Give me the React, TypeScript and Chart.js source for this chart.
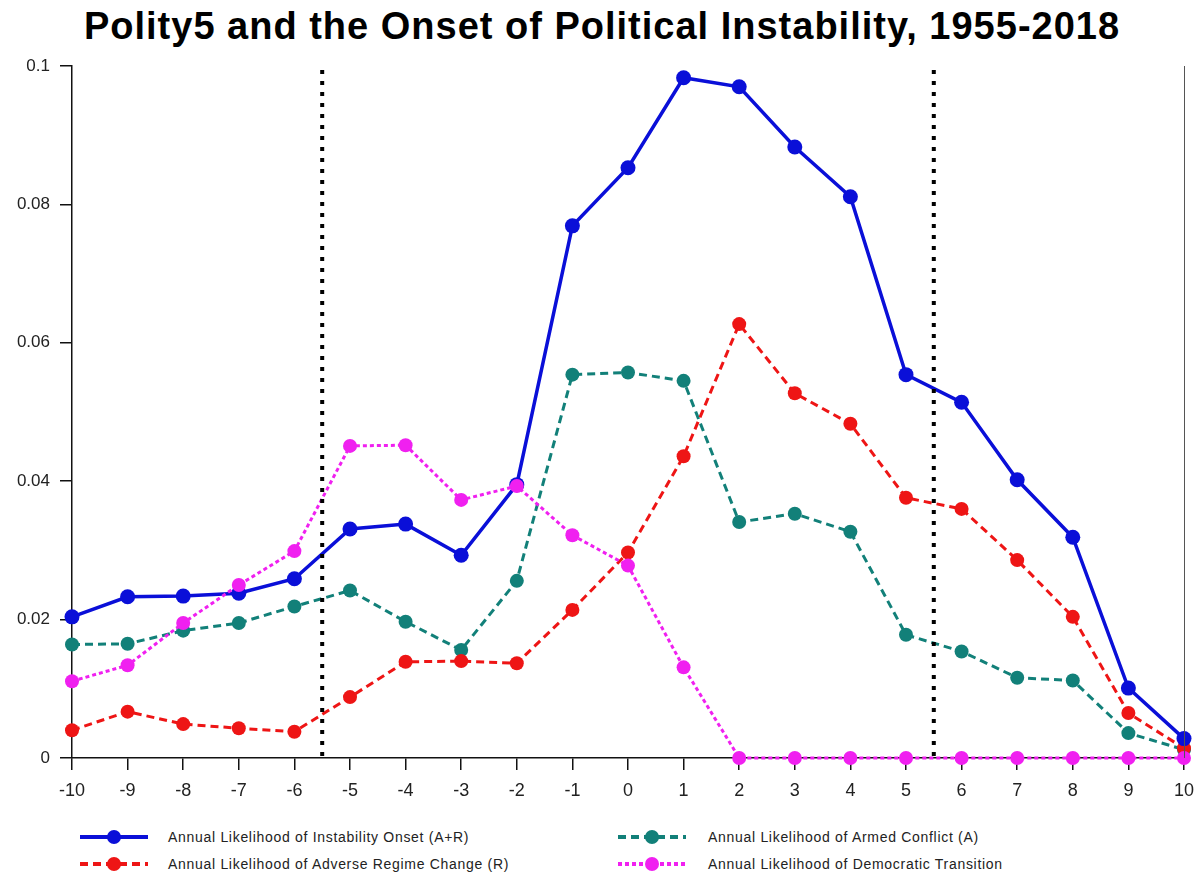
import React, { useEffect, useRef } from 'react';
import { Chart, registerables } from 'chart.js';

Chart.register(...registerables);

// Polity5 score (x axis)
const polityScores = [-10, -9, -8, -7, -6, -5, -4, -3, -2, -1, 0, 1, 2, 3, 4, 5, 6, 7, 8, 9, 10];

// Annual likelihoods
const instabilityOnset = [
  0.0204, 0.0233, 0.0234, 0.0238, 0.0259, 0.0331, 0.0338, 0.0293, 0.0395, 0.0769, 0.0853,
  0.0983, 0.097, 0.0883, 0.0811, 0.0554, 0.0514, 0.0402, 0.0319, 0.0101, 0.0028,
];
const adverseRegimeChange = [
  0.004, 0.0067, 0.0049, 0.0043, 0.0038, 0.0088, 0.0139, 0.014, 0.0137, 0.0214, 0.0297,
  0.0436, 0.0627, 0.0527, 0.0483, 0.0376, 0.036, 0.0286, 0.0204, 0.0065, 0.0014,
];
const armedConflict = [
  0.0164, 0.0165, 0.0184, 0.0195, 0.0219, 0.0242, 0.0197, 0.0156, 0.0256, 0.0554, 0.0557,
  0.0545, 0.0341, 0.0353, 0.0327, 0.0178, 0.0154, 0.0116, 0.0112, 0.0036, 0.0012,
];
const democraticTransition = [
  0.0111, 0.0134, 0.0195, 0.025, 0.0299, 0.0451, 0.0452, 0.0373, 0.0393, 0.0322, 0.0278,
  0.0131, 0, 0, 0, 0, 0, 0, 0, 0, 0,
];

// dotted reference lines between the regime bands
const bandEdges = [-5.5, 5.5];

const BLUE = '#0a0fd8';
const RED = '#ee1515';
const TEAL = '#128079';
const MAGENTA = '#f020f0';
const FONT = "'Liberation Sans', Arial, sans-serif";

const seriesInfo = [
  { label: 'Annual Likelihood of Instability Onset (A+R)', color: BLUE, dash: [] as number[], width: 3 },
  { label: 'Annual Likelihood of Armed Conflict (A)', color: TEAL, dash: [8, 5], width: 3 },
  { label: 'Annual Likelihood of Adverse Regime Change (R)', color: RED, dash: [8, 5], width: 3 },
  { label: 'Annual Likelihood of Democratic Transition', color: MAGENTA, dash: [4, 3], width: 3 },
];

const toPoints = (values: number[]) => polityScores.map((x, i) => ({ x, y: values[i] }));

const refLines = {
  id: 'refLines',
  afterDatasetsDraw(chart: any) {
    const { ctx, chartArea, scales } = chart;
    ctx.save();
    // thin frame line at the right edge
    ctx.strokeStyle = '#555';
    ctx.lineWidth = 1;
    ctx.beginPath();
    const xr = Math.round(scales.x.getPixelForValue(10)) + 0.5;
    ctx.moveTo(xr, chartArea.top);
    ctx.lineTo(xr, chartArea.bottom);
    ctx.stroke();
    // dotted band edges
    ctx.strokeStyle = '#000';
    ctx.lineWidth = 4;
    ctx.setLineDash([4, 7]);
    bandEdges.forEach((v) => {
      const x = scales.x.getPixelForValue(v);
      ctx.beginPath();
      ctx.moveTo(x, chartArea.top + 4);
      ctx.lineTo(x, chartArea.bottom);
      ctx.stroke();
    });
    ctx.restore();
  },
};

const LegendSample: React.FC<{ color: string; dash: number[]; width: number }> = ({ color, dash, width }) => (
  <svg width={68} height={18} style={{ display: 'block' }}>
    <line
      x1={0}
      y1={9}
      x2={68}
      y2={9}
      stroke={color}
      strokeWidth={width + 1}
      strokeDasharray={dash.length ? dash.join(' ') : undefined}
    />
    <circle cx={34} cy={9} r={7} fill={color} />
  </svg>
);

const App: React.FC = () => {
  const chartRef = useRef<HTMLCanvasElement>(null);
  const chartInstance = useRef<Chart | null>(null);

  useEffect(() => {
    if (!chartRef.current) return;
    if (chartInstance.current) chartInstance.current.destroy();
    const ctx = chartRef.current.getContext('2d');
    if (!ctx) return;

    const lineSet = (label: string, values: number[], color: string, dash: number[], radius: number, width: number) => ({
      label,
      data: toPoints(values),
      borderColor: color,
      backgroundColor: color,
      borderWidth: width,
      borderDash: dash,
      pointRadius: radius,
      pointBorderWidth: 0,
      pointBackgroundColor: color,
      tension: 0,
      clip: false as const,
    });

    chartInstance.current = new Chart(ctx, {
      type: 'line',
      data: {
        datasets: [
          lineSet(seriesInfo[3].label, democraticTransition, MAGENTA, [4, 3], 7, 3),
          lineSet(seriesInfo[0].label, instabilityOnset, BLUE, [], 7.5, 3.5),
          lineSet(seriesInfo[2].label, adverseRegimeChange, RED, [8, 5], 7, 3),
          lineSet(seriesInfo[1].label, armedConflict, TEAL, [8, 5], 7, 3),
        ],
      },
      options: {
        animation: false,
        responsive: true,
        maintainAspectRatio: false,
        layout: { padding: { top: 66, right: 17, left: 0, bottom: 0 } },
        plugins: {
          legend: { display: false },
          title: { display: false },
          tooltip: { enabled: false },
        },
        scales: {
          x: {
            type: 'linear',
            min: -10,
            max: 10,
            afterFit: (scale: any) => {
              scale.height = 52;
            },
            ticks: {
              stepSize: 1,
              color: '#222',
              padding: 10,
              font: { family: FONT, size: 18 },
            },
            grid: { drawOnChartArea: false, drawTicks: true, tickLength: 12, color: '#111', lineWidth: 1.5 },
            border: { display: true, color: '#111', width: 1.5 },
          },
          y: {
            min: 0,
            max: 0.1,
            afterFit: (scale: any) => {
              scale.width = 72;
            },
            ticks: {
              stepSize: 0.02,
              color: '#222',
              padding: 10,
              font: { family: FONT, size: 17 },
              callback: (v: any) => String(parseFloat(Number(v).toFixed(2))),
            },
            grid: { drawOnChartArea: false, drawTicks: true, tickLength: 12, color: '#111', lineWidth: 1.5 },
            border: { display: true, color: '#111', width: 1.5 },
          },
        },
      },
      plugins: [refLines],
    });

    return () => {
      if (chartInstance.current) {
        chartInstance.current.destroy();
        chartInstance.current = null;
      }
    };
  }, []);

  const legendRows = [
    [seriesInfo[0], seriesInfo[1]],
    [seriesInfo[2], seriesInfo[3]],
  ];

  return (
    <div style={{ position: 'absolute', left: 0, top: 0, width: 1204, height: 877, background: '#fff', fontFamily: FONT }}>
      <div
        style={{
          position: 'absolute',
          left: 0,
          top: 4,
          width: 1204,
          textAlign: 'center',
          fontSize: 38,
          fontWeight: 'bold',
          letterSpacing: 1,
          lineHeight: '44px',
          color: '#000',
        }}
      >
        Polity5 and the Onset of Political Instability, 1955-2018
      </div>
      <div style={{ position: 'absolute', left: 0, top: 0, width: 1204, height: 810 }}>
        <canvas ref={chartRef} />
      </div>
      {legendRows.map((row, r) => (
        <React.Fragment key={r}>
          {row.map((s, c) => (
            <div
              key={s.label}
              style={{
                position: 'absolute',
                left: c === 0 ? 80 : 618,
                top: (r === 0 ? 837 : 864) - 9,
                height: 18,
                display: 'flex',
                alignItems: 'center',
              }}
            >
              <LegendSample color={s.color} dash={s.dash} width={s.width} />
              <span style={{ marginLeft: c === 0 ? 20 : 22, fontSize: 14, letterSpacing: 0.7, color: '#222', whiteSpace: 'nowrap' }}>
                {s.label}
              </span>
            </div>
          ))}
        </React.Fragment>
      ))}
    </div>
  );
};

export default App;
